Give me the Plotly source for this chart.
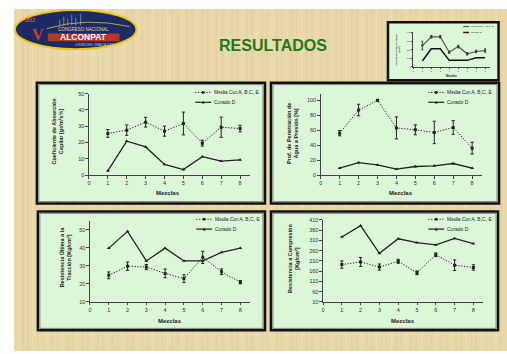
import plotly.graph_objects as go

W, H = 507, 354

# ---- data -------------------------------------------------------------
mezclas = [1, 2, 3, 4, 5, 6, 7, 8]
x_ticks = [0, 1, 2, 3, 4, 5, 6, 7, 8]

abs_media = [25.6, 27.6, 32.5, 27.0, 31.7, 19.6, 29.4, 28.6]
abs_media_err = [2.4, 3.2, 3.0, 3.1, 7.0, 1.8, 6.2, 2.0]
abs_curado = [2.6, 20.8, 17.3, 6.5, 3.4, 11.3, 8.5, 9.3]

pen_media = [56, 87, 100, 63, 60.5, 57, 63.6, 36]
pen_media_err = [3.5, 7.7, 1.0, 14.7, 6.6, 15.0, 9.2, 7.9]
pen_curado = [9.2, 16.7, 13.6, 7.9, 11.4, 12.3, 15.4, 9.2]

trac_media = [24.7, 29.8, 29.3, 25.8, 22.9, 34.7, 26.7, 20.9]
trac_media_err = [1.9, 2.3, 1.4, 2.4, 2.1, 3.4, 1.6, 0.9]
trac_curado = [39.8, 49.1, 32.7, 39.8, 32.7, 32.7, 37.5, 39.8]

comp_media = [192, 205, 180, 208, 152, 240, 189, 178]
comp_media_err = [18, 22, 15, 10, 9, 9, 26, 13]
comp_curado = [327, 382, 247, 318, 299, 288, 320, 294]

succ_media = [248, 350, 350, 171, 236, 152, 179, 190]
succ_media_err = [50, 15, 15, 15, 15, 15, 15, 20]
succ_curado = [69, 210, 210, 76, 76, 76, 107, 107]

name_media = "Media Cur.A, B,C, E"
name_curado = "Curado D"

FONT = "Liberation Sans, Arial, sans-serif"
INK = "#222222"
AXIS = "#444444"
BEIGE = "#e9d8aa"
PANEL = "#dbf7d7"
DOTS = "1.2px,1.6px"


def px(x):
    return x / W


def py(y):
    return 1 - y / H


fig = go.Figure()
shapes = []
annotations = []


def note(x, y, text, size, color=INK, family=FONT, xanchor="center", angle=0):
    annotations.append(dict(xref="paper", yref="paper", x=px(x), y=py(y), text=text,
                            showarrow=False, xanchor=xanchor, yanchor="middle",
                            textangle=angle, borderpad=0,
                            font=dict(family=family, size=size, color=color)))


# ---- slide background ---------------------------------------------------
shapes.append(dict(type="rect", xref="paper", yref="paper", layer="below",
                   x0=px(12), x1=px(507), y0=py(354), y1=py(6),
                   fillcolor=BEIGE, line=dict(width=0)))
# faint vertical fibres of the paper texture
for i, xs in enumerate(range(16, 505, 5)):
    shade = "rgba(185,155,95,0.08)" if i % 3 else "rgba(255,250,230,0.10)"
    shapes.append(dict(type="line", xref="paper", yref="paper", layer="below",
                       x0=px(xs), x1=px(xs), y0=py(354), y1=py(6),
                       line=dict(color=shade, width=2)))


def panel(x0, y0, x1, y1):
    shapes.append(dict(type="rect", xref="paper", yref="paper", layer="below",
                       x0=px(x0), x1=px(x1), y0=py(y1), y1=py(y0),
                       fillcolor=PANEL, line=dict(color="#111111", width=2.5)))
    shapes.append(dict(type="rect", xref="paper", yref="paper", layer="below",
                       x0=px(x0 + 2), x1=px(x1 - 2), y0=py(y1 - 2), y1=py(y0 + 2),
                       fillcolor="rgba(0,0,0,0)", line=dict(color="#6a6a6a", width=0.8)))


panel(35, 81, 264, 204)
panel(270, 81, 499, 204)
panel(36, 212, 264, 333)
panel(270, 212, 498, 333)


# ---- charts -------------------------------------------------------------
def axis_style(domain, rng, tickvals, anchor, size=5.5, tlen=2.5):
    return dict(domain=domain, range=rng, tickvals=tickvals, anchor=anchor,
                showgrid=False, zeroline=False, showline=True,
                linecolor=AXIS, linewidth=1.1, ticks="outside",
                ticklen=tlen, tickwidth=1, tickcolor=AXIS,
                tickfont=dict(family=FONT, size=size, color="#333333"))


def add_chart(idx, media, err, curado, xdom, ydom, yrng, yticks,
              ytitle, ytitle_xy, xtitle_xy, legend_xy):
    xa = "x" if idx == 1 else f"x{idx}"
    ya = "y" if idx == 1 else f"y{idx}"
    fig.add_trace(go.Scatter(
        x=mezclas, y=media, name=name_media, xaxis=xa, yaxis=ya,
        mode="lines+markers", showlegend=False,
        line=dict(color=INK, width=1, dash=DOTS),
        marker=dict(symbol="square", size=3, color=INK),
        error_y=dict(type="data", array=err, visible=True,
                     color=INK, thickness=1, width=1.6)))
    fig.add_trace(go.Scatter(
        x=mezclas, y=curado, name=name_curado, xaxis=xa, yaxis=ya,
        mode="lines+markers", showlegend=False,
        line=dict(color=INK, width=1.3),
        marker=dict(symbol="triangle-up", size=3.5, color=INK)))
    key = "" if idx == 1 else str(idx)
    fig.update_layout(**{
        f"xaxis{key}": axis_style([px(xdom[0]), px(xdom[1])], [0, 8.5], x_ticks, ya),
        f"yaxis{key}": axis_style([py(ydom[1]), py(ydom[0])], yrng, yticks, xa),
    })
    note(ytitle_xy[0], ytitle_xy[1], ytitle, 5.5, angle=-90)
    note(xtitle_xy[0], xtitle_xy[1], "<b>Mezclas</b>", 6)
    # legend block
    lx, ly = legend_xy
    entries = [(name_media, DOTS, "square"), (name_curado, "solid", "triangle")]
    for k, (label, dash, sym) in enumerate(entries):
        yy = ly + 10 * k
        shapes.append(dict(type="line", xref="paper", yref="paper",
                           x0=px(lx), x1=px(lx + 16), y0=py(yy), y1=py(yy),
                           line=dict(color=INK, width=1 if dash == DOTS else 1.2, dash=dash)))
        cx = lx + 8
        if sym == "square":
            shapes.append(dict(type="rect", xref="paper", yref="paper",
                               x0=px(cx - 1.3), x1=px(cx + 1.3), y0=py(yy + 1.3), y1=py(yy - 1.3),
                               fillcolor=INK, line=dict(width=0)))
        else:
            shapes.append(dict(type="path", xref="paper", yref="paper",
                               path=f"M {px(cx - 1.6)} {py(yy + 1.3)} L {px(cx + 1.6)} {py(yy + 1.3)} "
                                    f"L {px(cx)} {py(yy - 1.6)} Z",
                               fillcolor=INK, line=dict(width=0)))
        note(lx + 17.5, yy, label, 5, xanchor="left")


add_chart(1, abs_media, abs_media_err, abs_curado,
          (87.3, 248.5), (92.3, 175), [0, 50], [0, 10, 20, 30, 40, 50],
          "<b>Coeficiente de Absorción<br>Capilar [gr/m²s½]</b>", (56, 130), (167, 193), (194, 91))
add_chart(2, pen_media, pen_media_err, pen_curado,
          (320, 481.5), (92.9, 175), [0, 108], [0, 20, 40, 60, 80, 100],
          "<b>Prof. de Penetración de<br>Agua a Presión [%]</b>", (291.5, 133), (401, 193), (428, 91))
add_chart(3, trac_media, trac_media_err, trac_curado,
          (88.3, 248.7), (221.5, 304), [10, 55], [10, 20, 30, 40, 50],
          "<b>Resistencia Última a la<br>Tracción [Kg/cm²]</b>", (64, 258), (169, 323), (195, 220))
add_chart(4, comp_media, comp_media_err, comp_curado,
          (322.3, 482.7), (220.7, 304), [10, 410], [10, 60, 110, 160, 210, 260, 310, 360, 410],
          "<b>Resistencia a Compresión<br>[Kg/cm²]</b>", (292.5, 260), (402.5, 323), (428, 220))

# ---- thumbnail chart ----------------------------------------------------
shapes.append(dict(type="rect", xref="paper", yref="paper", layer="below",
                   x0=px(387.5), x1=px(498.5), y0=py(78.5), y1=py(19.5),
                   fillcolor=PANEL, line=dict(color="#111111", width=2.5)))
fig.add_trace(go.Scatter(
    x=mezclas, y=succ_media, xaxis="x5", yaxis="y5", mode="lines+markers",
    showlegend=False, line=dict(color="#555555", width=1.2),
    marker=dict(symbol="square", size=2, color="#333333"),
    error_y=dict(type="data", array=succ_media_err, visible=True,
                 color="#222222", thickness=0.8, width=1)))
fig.add_trace(go.Scatter(
    x=mezclas, y=succ_curado, xaxis="x5", yaxis="y5", mode="lines",
    showlegend=False, line=dict(color="#111111", width=1.5)))
fig.update_layout(
    xaxis5=axis_style([px(413), px(489.5)], [0, 8.5], x_ticks, "y5", size=2.5, tlen=1),
    yaxis5=axis_style([py(65), py(30)], [0, 400], [0, 100, 200, 300, 400], "x5", size=2.5, tlen=1),
)
note(398, 47, "<b>Tiempo de Succión Capilar<br>[s/m²]</b>", 2.5, angle=-90)
note(451, 74, "<b>Mezclas</b>", 2.8)
for k, (label, w) in enumerate([(name_media, 0.8), (name_curado, 1.5)]):
    yy = 24 + 6 * k
    shapes.append(dict(type="line", xref="paper", yref="paper",
                       x0=px(463), x1=px(469), y0=py(yy), y1=py(yy),
                       line=dict(color=INK, width=w)))
    note(469.5, yy, label, 2.5, xanchor="left")

# ---- logo ---------------------------------------------------------------
shapes.append(dict(type="circle", xref="paper", yref="paper",
                   x0=px(13), x1=px(135), y0=py(47), y1=py(7),
                   fillcolor="#1c2a66", line=dict(color="#e9c619", width=2)))
# skyline strokes
for xs, top in [(58, 17), (62, 14), (66, 16), (70, 12), (74, 15), (79, 11)]:
    shapes.append(dict(type="line", xref="paper", yref="paper",
                       x0=px(xs), x1=px(xs), y0=py(23), y1=py(top),
                       line=dict(color="#8b93b5", width=0.8)))
shapes.append(dict(type="path", xref="paper", yref="paper",
                   path=f"M {px(45)} {py(26)} Q {px(85)} {py(14)} {px(128)} {py(24)}",
                   line=dict(color="#d9c23a", width=0.8)))
shapes.append(dict(type="rect", xref="paper", yref="paper",
                   x0=px(46), x1=px(118), y0=py(39), y1=py(31),
                   fillcolor="#b33a2a", line=dict(width=0)))
note(29, 17.5, "<b>2012</b>", 4.5, color="#e04a30")
note(36, 32, "<b>V</b>", 16, color="#d23a22", family="Liberation Serif")
note(82, 27, "CONGRESO NACIONAL", 4.5, color="#e6d9a0")
note(82, 35, "<b>ALCONPAT</b>", 8.5, color="#ffffff")
note(93, 42.5, "LOS MOCHIS, SINALOA 2012", 2.8, color="#c7cbe0")

# ---- title --------------------------------------------------------------
note(272, 43, "<b>RESULTADOS</b>", 16, color="#237a1e")

fig.update_layout(
    width=W, height=H, margin=dict(l=0, r=0, t=0, b=0),
    paper_bgcolor="#ffffff", plot_bgcolor="rgba(0,0,0,0)",
    showlegend=False, shapes=shapes, annotations=annotations,
)

fig.write_html("out.html", config={"displayModeBar": False})
